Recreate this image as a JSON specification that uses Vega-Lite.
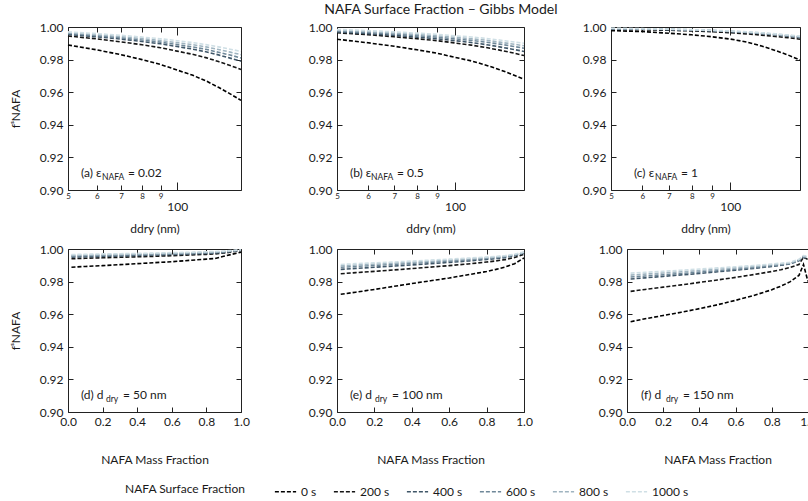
{
  "$schema": "https://vega.github.io/schema/vega-lite/v6.json",
  "padding": {"left": 9, "top": 3, "right": 5, "bottom": 5},
  "title": {"text": "NAFA Surface Fraction – Gibbs Model", "fontSize": 14, "fontWeight": "normal", "offset": 4, "anchor": "middle", "dx": 28, "color": "#1a1a1a"},
  "datasets": {
    "curves": [
      {"p":"a","x":50,"0 s":0.989,"200 s":0.9945,"400 s":0.9955,"600 s":0.996,"800 s":0.9965,"1000 s":0.997},
      {"p":"a","x":60,"0 s":0.986,"200 s":0.9927,"400 s":0.994,"600 s":0.9947,"800 s":0.9953,"1000 s":0.9959},
      {"p":"a","x":70,"0 s":0.983,"200 s":0.9909,"400 s":0.9926,"600 s":0.9934,"800 s":0.9941,"1000 s":0.9949},
      {"p":"a","x":80,"0 s":0.98,"200 s":0.9891,"400 s":0.9911,"600 s":0.992,"800 s":0.9929,"1000 s":0.9938},
      {"p":"a","x":90,"0 s":0.977,"200 s":0.9873,"400 s":0.9897,"600 s":0.9907,"800 s":0.9917,"1000 s":0.9928},
      {"p":"a","x":100,"0 s":0.9736,"200 s":0.9852,"400 s":0.988,"600 s":0.9892,"800 s":0.9904,"1000 s":0.9916},
      {"p":"a","x":110,"0 s":0.9705,"200 s":0.9833,"400 s":0.9865,"600 s":0.9878,"800 s":0.9892,"1000 s":0.9905},
      {"p":"a","x":120,"0 s":0.967,"200 s":0.9812,"400 s":0.9848,"600 s":0.9863,"800 s":0.9878,"1000 s":0.9892},
      {"p":"a","x":130,"0 s":0.963,"200 s":0.9788,"400 s":0.9829,"600 s":0.9845,"800 s":0.9862,"1000 s":0.9878},
      {"p":"a","x":140,"0 s":0.959,"200 s":0.9764,"400 s":0.9809,"600 s":0.9828,"800 s":0.9846,"1000 s":0.9864},
      {"p":"a","x":150,"0 s":0.955,"200 s":0.974,"400 s":0.979,"600 s":0.981,"800 s":0.983,"1000 s":0.985},

      {"p":"b","x":50,"0 s":0.9925,"200 s":0.9965,"400 s":0.997,"600 s":0.9975,"800 s":0.998,"1000 s":0.9985},
      {"p":"b","x":60,"0 s":0.9903,"200 s":0.9953,"400 s":0.9959,"600 s":0.9966,"800 s":0.9972,"1000 s":0.9978},
      {"p":"b","x":70,"0 s":0.9882,"200 s":0.994,"400 s":0.9949,"600 s":0.9957,"800 s":0.9963,"1000 s":0.997},
      {"p":"b","x":80,"0 s":0.986,"200 s":0.9928,"400 s":0.9938,"600 s":0.9947,"800 s":0.9955,"1000 s":0.9962},
      {"p":"b","x":90,"0 s":0.9839,"200 s":0.9916,"400 s":0.9928,"600 s":0.9938,"800 s":0.9946,"1000 s":0.9955},
      {"p":"b","x":100,"0 s":0.9814,"200 s":0.9902,"400 s":0.9916,"600 s":0.9927,"800 s":0.9937,"1000 s":0.9946},
      {"p":"b","x":110,"0 s":0.9792,"200 s":0.9889,"400 s":0.9905,"600 s":0.9918,"800 s":0.9928,"1000 s":0.9939},
      {"p":"b","x":120,"0 s":0.9766,"200 s":0.9874,"400 s":0.9892,"600 s":0.9907,"800 s":0.9919,"1000 s":0.993},
      {"p":"b","x":130,"0 s":0.9738,"200 s":0.9858,"400 s":0.9878,"600 s":0.9895,"800 s":0.9907,"1000 s":0.992},
      {"p":"b","x":140,"0 s":0.9709,"200 s":0.9842,"400 s":0.9864,"600 s":0.9882,"800 s":0.9896,"1000 s":0.991},
      {"p":"b","x":150,"0 s":0.968,"200 s":0.9825,"400 s":0.985,"600 s":0.987,"800 s":0.9885,"1000 s":0.99},

      {"p":"c","x":50,"0 s":0.9978,"200 s":0.9985,"400 s":0.9989,"600 s":0.999,"800 s":0.9991,"1000 s":0.9992},
      {"p":"c","x":60,"0 s":0.9972,"200 s":0.9983,"400 s":0.9987,"600 s":0.9988,"800 s":0.9989,"1000 s":0.999},
      {"p":"c","x":70,"0 s":0.9962,"200 s":0.998,"400 s":0.9984,"600 s":0.9985,"800 s":0.9986,"1000 s":0.9987},
      {"p":"c","x":80,"0 s":0.9952,"200 s":0.9976,"400 s":0.9981,"600 s":0.9982,"800 s":0.9983,"1000 s":0.9984},
      {"p":"c","x":90,"0 s":0.994,"200 s":0.9971,"400 s":0.9977,"600 s":0.9978,"800 s":0.9979,"1000 s":0.998},
      {"p":"c","x":100,"0 s":0.9926,"200 s":0.9965,"400 s":0.9972,"600 s":0.9973,"800 s":0.9974,"1000 s":0.9976},
      {"p":"c","x":110,"0 s":0.9908,"200 s":0.9958,"400 s":0.9966,"600 s":0.9967,"800 s":0.9969,"1000 s":0.9971},
      {"p":"c","x":120,"0 s":0.9883,"200 s":0.995,"400 s":0.9959,"600 s":0.9961,"800 s":0.9963,"1000 s":0.9965},
      {"p":"c","x":130,"0 s":0.9856,"200 s":0.9942,"400 s":0.9952,"600 s":0.9954,"800 s":0.9956,"1000 s":0.9958},
      {"p":"c","x":140,"0 s":0.9828,"200 s":0.9934,"400 s":0.9944,"600 s":0.9946,"800 s":0.9949,"1000 s":0.9951},
      {"p":"c","x":150,"0 s":0.9798,"200 s":0.9925,"400 s":0.9935,"600 s":0.9938,"800 s":0.9941,"1000 s":0.9944},

      {"p":"d","x":0.02,"0 s":0.9888,"200 s":0.994,"400 s":0.995,"600 s":0.9956,"800 s":0.9961,"1000 s":0.9966},
      {"p":"d","x":0.1,"0 s":0.9893,"200 s":0.9943,"400 s":0.9952,"600 s":0.9958,"800 s":0.9963,"1000 s":0.9968},
      {"p":"d","x":0.2,"0 s":0.9898,"200 s":0.9946,"400 s":0.9955,"600 s":0.996,"800 s":0.9965,"1000 s":0.997},
      {"p":"d","x":0.3,"0 s":0.9904,"200 s":0.9949,"400 s":0.9957,"600 s":0.9962,"800 s":0.9967,"1000 s":0.9971},
      {"p":"d","x":0.4,"0 s":0.991,"200 s":0.9952,"400 s":0.996,"600 s":0.9965,"800 s":0.9969,"1000 s":0.9973},
      {"p":"d","x":0.5,"0 s":0.9916,"200 s":0.9955,"400 s":0.9963,"600 s":0.9967,"800 s":0.9971,"1000 s":0.9975},
      {"p":"d","x":0.6,"0 s":0.9922,"200 s":0.9959,"400 s":0.9966,"600 s":0.997,"800 s":0.9974,"1000 s":0.9978},
      {"p":"d","x":0.7,"0 s":0.993,"200 s":0.9963,"400 s":0.9969,"600 s":0.9973,"800 s":0.9977,"1000 s":0.998},
      {"p":"d","x":0.8,"0 s":0.9938,"200 s":0.9967,"400 s":0.9973,"600 s":0.9976,"800 s":0.998,"1000 s":0.9983},
      {"p":"d","x":0.85,"0 s":0.9942,"200 s":0.997,"400 s":0.9975,"600 s":0.9978,"800 s":0.9982,"1000 s":0.9985},
      {"p":"d","x":0.9,"0 s":0.9955,"200 s":0.9975,"400 s":0.9979,"600 s":0.9982,"800 s":0.9985,"1000 s":0.9987},
      {"p":"d","x":0.95,"0 s":0.9968,"200 s":0.9982,"400 s":0.9985,"600 s":0.9987,"800 s":0.9989,"1000 s":0.9991},
      {"p":"d","x":1.0,"0 s":0.998,"200 s":0.999,"400 s":0.9992,"600 s":0.9993,"800 s":0.9994,"1000 s":0.9995},

      {"p":"e","x":0.02,"0 s":0.9722,"200 s":0.9848,"400 s":0.9875,"600 s":0.9888,"800 s":0.9897,"1000 s":0.9905},
      {"p":"e","x":0.1,"0 s":0.9735,"200 s":0.9855,"400 s":0.9881,"600 s":0.9893,"800 s":0.9902,"1000 s":0.991},
      {"p":"e","x":0.2,"0 s":0.9752,"200 s":0.9863,"400 s":0.9888,"600 s":0.9899,"800 s":0.9907,"1000 s":0.9915},
      {"p":"e","x":0.3,"0 s":0.977,"200 s":0.9871,"400 s":0.9895,"600 s":0.9905,"800 s":0.9913,"1000 s":0.992},
      {"p":"e","x":0.4,"0 s":0.9788,"200 s":0.988,"400 s":0.9902,"600 s":0.9912,"800 s":0.9919,"1000 s":0.9926},
      {"p":"e","x":0.5,"0 s":0.9805,"200 s":0.9889,"400 s":0.991,"600 s":0.9919,"800 s":0.9925,"1000 s":0.9932},
      {"p":"e","x":0.6,"0 s":0.9822,"200 s":0.9898,"400 s":0.9918,"600 s":0.9926,"800 s":0.9932,"1000 s":0.9938},
      {"p":"e","x":0.7,"0 s":0.9842,"200 s":0.9908,"400 s":0.9926,"600 s":0.9933,"800 s":0.9939,"1000 s":0.9944},
      {"p":"e","x":0.8,"0 s":0.9862,"200 s":0.992,"400 s":0.9936,"600 s":0.9942,"800 s":0.9947,"1000 s":0.9951},
      {"p":"e","x":0.85,"0 s":0.9875,"200 s":0.9927,"400 s":0.9941,"600 s":0.9947,"800 s":0.9951,"1000 s":0.9955},
      {"p":"e","x":0.9,"0 s":0.989,"200 s":0.9935,"400 s":0.9947,"600 s":0.9953,"800 s":0.9956,"1000 s":0.996},
      {"p":"e","x":0.95,"0 s":0.991,"200 s":0.9948,"400 s":0.9958,"600 s":0.9962,"800 s":0.9965,"1000 s":0.9968},
      {"p":"e","x":1.0,"0 s":0.9945,"200 s":0.9968,"400 s":0.9975,"600 s":0.9978,"800 s":0.998,"1000 s":0.9982},

      {"p":"f","x":0.02,"0 s":0.9554,"200 s":0.974,"400 s":0.9816,"600 s":0.9828,"800 s":0.984,"1000 s":0.9852},
      {"p":"f","x":0.1,"0 s":0.9572,"200 s":0.9752,"400 s":0.9823,"600 s":0.9834,"800 s":0.9846,"1000 s":0.9857},
      {"p":"f","x":0.2,"0 s":0.9592,"200 s":0.9766,"400 s":0.9832,"600 s":0.9842,"800 s":0.9853,"1000 s":0.9863},
      {"p":"f","x":0.3,"0 s":0.9612,"200 s":0.978,"400 s":0.9841,"600 s":0.985,"800 s":0.986,"1000 s":0.987},
      {"p":"f","x":0.4,"0 s":0.9634,"200 s":0.9795,"400 s":0.985,"600 s":0.9858,"800 s":0.9868,"1000 s":0.9877},
      {"p":"f","x":0.5,"0 s":0.9658,"200 s":0.981,"400 s":0.986,"600 s":0.9867,"800 s":0.9876,"1000 s":0.9884},
      {"p":"f","x":0.6,"0 s":0.9685,"200 s":0.9826,"400 s":0.987,"600 s":0.9876,"800 s":0.9884,"1000 s":0.9891},
      {"p":"f","x":0.7,"0 s":0.9715,"200 s":0.9843,"400 s":0.9881,"600 s":0.9886,"800 s":0.9893,"1000 s":0.9899},
      {"p":"f","x":0.8,"0 s":0.975,"200 s":0.9862,"400 s":0.9893,"600 s":0.9897,"800 s":0.9903,"1000 s":0.9908},
      {"p":"f","x":0.85,"0 s":0.9772,"200 s":0.9873,"400 s":0.99,"600 s":0.9903,"800 s":0.9908,"1000 s":0.9913},
      {"p":"f","x":0.9,"0 s":0.9798,"200 s":0.9886,"400 s":0.9908,"600 s":0.991,"800 s":0.9914,"1000 s":0.9918},
      {"p":"f","x":0.95,"0 s":0.9838,"200 s":0.9905,"400 s":0.9928,"600 s":0.9931,"800 s":0.9934,"1000 s":0.9937},
      {"p":"f","x":0.975,"0 s":0.9905,"200 s":0.995,"400 s":0.995,"600 s":0.9953,"800 s":0.9956,"1000 s":0.996},
      {"p":"f","x":1.0,"0 s":0.98,"200 s":0.9935,"400 s":0.9942,"600 s":0.9946,"800 s":0.995,"1000 s":0.9955}
    ]
  },
  "vconcat": [
    {
      "hconcat": [
        {
          "width": 173, "height": 163,
          "layer": [
            {
              "data": {"name": "curves"},
              "transform": [{"filter": "datum.p === 'a'"}, {"fold": ["0 s", "200 s", "400 s", "600 s", "800 s", "1000 s"], "as": ["t", "f"]}],
              "mark": {"type": "line", "strokeDash": [4, 2], "strokeWidth": 1.6},
              "encoding": {
                "x": {"field": "x", "type": "quantitative", "scale": {"type": "log", "domain": [50, 150], "nice": false},
                      "axis": {"orient": "bottom", "values": [50, 60, 70, 80, 90, 100], "title": "ddry (nm)", "titlePadding": 11,
                               "labelExpr": "datum.value == 100 ? '100' : format(datum.value / 10, 'd')",
                               "labelFontSize": {"condition": {"test": "datum.value == 100", "value": 12}, "value": 8},
                               "tickSize": {"condition": {"test": "datum.value == 100", "value": -8}, "value": -5},
                               "labelPadding": {"condition": {"test": "datum.value == 100", "value": 19}, "value": 7}}},
                "y": {"field": "f", "type": "quantitative", "scale": {"domain": [0.9, 1.0], "nice": false, "zero": false},
                      "axis": {"orient": "left", "values": [0.9, 0.92, 0.94, 0.96, 0.98, 1.0], "format": ".2f", "labelPadding": 10, "title": "fˢNAFA", "titlePadding": 17}},
                "color": {"field": "t", "type": "nominal", "sort": ["0 s", "200 s", "400 s", "600 s", "800 s", "1000 s"],
                          "scale": {"domain": ["0 s", "200 s", "400 s", "600 s", "800 s", "1000 s"], "range": ["#000000", "#151515", "#3f5668", "#6f8899", "#9fb4c0", "#cfdfe5"]},
                          "legend": {"orient": "none", "legendX": 57, "legendY": 453, "direction": "horizontal", "title": "NAFA Surface Fraction", "titleOrient": "left"}}
              }
            },
            {
              "data": {"values": [{}]},
              "mark": {"type": "text", "text": "(a) ε", "align": "left", "baseline": "middle", "dx": 13, "fontSize": 12},
              "encoding": {
                "x": {"datum": 50, "type": "quantitative", "scale": {"type": "log", "domain": [50, 150], "nice": false},
                      "axis": {"orient": "top", "values": [50, 60, 70, 80, 90, 100], "title": null, "labels": false,
                               "tickSize": {"condition": {"test": "datum.value == 100", "value": -8}, "value": -5}}},
                "y": {"datum": 0.9105, "type": "quantitative", "scale": {"domain": [0.9, 1.0], "nice": false, "zero": false},
                      "axis": {"orient": "right", "values": [0.9, 0.92, 0.94, 0.96, 0.98, 1.0], "title": null, "labels": false}}
              }
            },
            {
              "data": {"values": [{}]},
              "mark": {"type": "text", "text": "NAFA", "align": "left", "baseline": "middle", "dx": 34, "dy": 4, "fontSize": 8.5},
              "encoding": {"x": {"datum": 50, "type": "quantitative", "axis": null}, "y": {"datum": 0.9105, "type": "quantitative", "axis": null}}
            },
            {
              "data": {"values": [{}]},
              "mark": {"type": "text", "text": "= 0.02", "align": "left", "baseline": "middle", "dx": 60, "fontSize": 12},
              "encoding": {"x": {"datum": 50, "type": "quantitative", "axis": null}, "y": {"datum": 0.9105, "type": "quantitative", "axis": null}}
            }
          ],
          "resolve": {"axis": {"x": "independent", "y": "independent"}}
        },
        {
          "hconcat": [
            {
              "width": 187, "height": 163,
              "layer": [
                {
                  "data": {"name": "curves"},
                  "transform": [{"filter": "datum.p === 'b'"}, {"fold": ["0 s", "200 s", "400 s", "600 s", "800 s", "1000 s"], "as": ["t", "f"]}],
                  "mark": {"type": "line", "strokeDash": [4, 2], "strokeWidth": 1.6},
                  "encoding": {
                    "x": {"field": "x", "type": "quantitative", "scale": {"type": "log", "domain": [50, 150], "nice": false},
                          "axis": {"orient": "bottom", "values": [50, 60, 70, 80, 90, 100], "title": "ddry (nm)", "titlePadding": 11,
                                   "labelExpr": "datum.value == 100 ? '100' : format(datum.value / 10, 'd')",
                                   "labelFontSize": {"condition": {"test": "datum.value == 100", "value": 12}, "value": 8},
                                   "tickSize": {"condition": {"test": "datum.value == 100", "value": -8}, "value": -5},
                                   "labelPadding": {"condition": {"test": "datum.value == 100", "value": 19}, "value": 7}}},
                    "y": {"field": "f", "type": "quantitative", "scale": {"domain": [0.9, 1.0], "nice": false, "zero": false},
                          "axis": {"orient": "left", "values": [0.9, 0.92, 0.94, 0.96, 0.98, 1.0], "format": ".2f", "labelPadding": 10, "title": null}},
                    "color": {"field": "t", "type": "nominal", "sort": ["0 s", "200 s", "400 s", "600 s", "800 s", "1000 s"],
                              "scale": {"domain": ["0 s", "200 s", "400 s", "600 s", "800 s", "1000 s"], "range": ["#000000", "#151515", "#3f5668", "#6f8899", "#9fb4c0", "#cfdfe5"]},
                              "legend": {"orient": "none", "legendX": 57, "legendY": 453, "direction": "horizontal", "title": "NAFA Surface Fraction", "titleOrient": "left"}}
                  }
                },
                {
                  "data": {"values": [{}]},
                  "mark": {"type": "text", "text": "(b) ε", "align": "left", "baseline": "middle", "dx": 13, "fontSize": 12},
                  "encoding": {
                    "x": {"datum": 50, "type": "quantitative", "scale": {"type": "log", "domain": [50, 150], "nice": false},
                          "axis": {"orient": "top", "values": [50, 60, 70, 80, 90, 100], "title": null, "labels": false,
                                   "tickSize": {"condition": {"test": "datum.value == 100", "value": -8}, "value": -5}}},
                    "y": {"datum": 0.9105, "type": "quantitative", "scale": {"domain": [0.9, 1.0], "nice": false, "zero": false},
                          "axis": {"orient": "right", "values": [0.9, 0.92, 0.94, 0.96, 0.98, 1.0], "title": null, "labels": false}}
                  }
                },
                {
                  "data": {"values": [{}]},
                  "mark": {"type": "text", "text": "NAFA", "align": "left", "baseline": "middle", "dx": 34, "dy": 4, "fontSize": 8.5},
                  "encoding": {"x": {"datum": 50, "type": "quantitative", "axis": null}, "y": {"datum": 0.9105, "type": "quantitative", "axis": null}}
                },
                {
                  "data": {"values": [{}]},
                  "mark": {"type": "text", "text": "= 0.5", "align": "left", "baseline": "middle", "dx": 60, "fontSize": 12},
                  "encoding": {"x": {"datum": 50, "type": "quantitative", "axis": null}, "y": {"datum": 0.9105, "type": "quantitative", "axis": null}}
                }
              ],
              "resolve": {"axis": {"x": "independent", "y": "independent"}}
            },
            {
              "width": 189, "height": 163,
              "layer": [
                {
                  "data": {"name": "curves"},
                  "transform": [{"filter": "datum.p === 'c'"}, {"fold": ["0 s", "200 s", "400 s", "600 s", "800 s", "1000 s"], "as": ["t", "f"]}],
                  "mark": {"type": "line", "strokeDash": [4, 2], "strokeWidth": 1.6},
                  "encoding": {
                    "x": {"field": "x", "type": "quantitative", "scale": {"type": "log", "domain": [50, 150], "nice": false},
                          "axis": {"orient": "bottom", "values": [50, 60, 70, 80, 90, 100], "title": "ddry (nm)", "titlePadding": 11,
                                   "labelExpr": "datum.value == 100 ? '100' : format(datum.value / 10, 'd')",
                                   "labelFontSize": {"condition": {"test": "datum.value == 100", "value": 12}, "value": 8},
                                   "tickSize": {"condition": {"test": "datum.value == 100", "value": -8}, "value": -5},
                                   "labelPadding": {"condition": {"test": "datum.value == 100", "value": 19}, "value": 7}}},
                    "y": {"field": "f", "type": "quantitative", "scale": {"domain": [0.9, 1.0], "nice": false, "zero": false},
                          "axis": {"orient": "left", "values": [0.9, 0.92, 0.94, 0.96, 0.98, 1.0], "format": ".2f", "labelPadding": 10, "title": null}},
                    "color": {"field": "t", "type": "nominal", "sort": ["0 s", "200 s", "400 s", "600 s", "800 s", "1000 s"],
                              "scale": {"domain": ["0 s", "200 s", "400 s", "600 s", "800 s", "1000 s"], "range": ["#000000", "#151515", "#3f5668", "#6f8899", "#9fb4c0", "#cfdfe5"]},
                              "legend": {"orient": "none", "legendX": 57, "legendY": 453, "direction": "horizontal", "title": "NAFA Surface Fraction", "titleOrient": "left"}}
                  }
                },
                {
                  "data": {"values": [{}]},
                  "mark": {"type": "text", "text": "(c) ε", "align": "left", "baseline": "middle", "dx": 23, "fontSize": 12},
                  "encoding": {
                    "x": {"datum": 50, "type": "quantitative", "scale": {"type": "log", "domain": [50, 150], "nice": false},
                          "axis": {"orient": "top", "values": [50, 60, 70, 80, 90, 100], "title": null, "labels": false,
                                   "tickSize": {"condition": {"test": "datum.value == 100", "value": -8}, "value": -5}}},
                    "y": {"datum": 0.9105, "type": "quantitative", "scale": {"domain": [0.9, 1.0], "nice": false, "zero": false},
                          "axis": {"orient": "right", "values": [0.9, 0.92, 0.94, 0.96, 0.98, 1.0], "title": null, "labels": false}}
                  }
                },
                {
                  "data": {"values": [{}]},
                  "mark": {"type": "text", "text": "NAFA", "align": "left", "baseline": "middle", "dx": 44, "dy": 4, "fontSize": 8.5},
                  "encoding": {"x": {"datum": 50, "type": "quantitative", "axis": null}, "y": {"datum": 0.9105, "type": "quantitative", "axis": null}}
                },
                {
                  "data": {"values": [{}]},
                  "mark": {"type": "text", "text": "= 1", "align": "left", "baseline": "middle", "dx": 70, "fontSize": 12},
                  "encoding": {"x": {"datum": 50, "type": "quantitative", "axis": null}, "y": {"datum": 0.9105, "type": "quantitative", "axis": null}}
                }
              ],
              "resolve": {"axis": {"x": "independent", "y": "independent"}}
            }
          ],
          "spacing": 54,
          "resolve": {"scale": {"color": "shared"}}
        }
      ],
      "spacing": 63,
      "resolve": {"scale": {"color": "shared"}}
    },
    {
      "hconcat": [
        {
          "width": 173, "height": 163,
          "layer": [
            {
              "data": {"name": "curves"},
              "transform": [{"filter": "datum.p === 'd'"}, {"fold": ["0 s", "200 s", "400 s", "600 s", "800 s", "1000 s"], "as": ["t", "f"]}],
              "mark": {"type": "line", "strokeDash": [4, 2], "strokeWidth": 1.6},
              "encoding": {
                "x": {"field": "x", "type": "quantitative", "scale": {"domain": [0, 1], "nice": false, "zero": false},
                      "axis": {"orient": "bottom", "values": [0, 0.2, 0.4, 0.6, 0.8, 1.0], "format": ".1f", "labelPadding": 9, "title": "NAFA Mass Fraction", "titlePadding": 27}},
                "y": {"field": "f", "type": "quantitative", "scale": {"domain": [0.9, 1.0], "nice": false, "zero": false},
                      "axis": {"orient": "left", "values": [0.9, 0.92, 0.94, 0.96, 0.98, 1.0], "format": ".2f", "labelPadding": 10, "title": "fˢNAFA", "titlePadding": 17}},
                "color": {"field": "t", "type": "nominal", "sort": ["0 s", "200 s", "400 s", "600 s", "800 s", "1000 s"],
                          "scale": {"domain": ["0 s", "200 s", "400 s", "600 s", "800 s", "1000 s"], "range": ["#000000", "#151515", "#3f5668", "#6f8899", "#9fb4c0", "#cfdfe5"]},
                          "legend": {"orient": "none", "legendX": 57, "legendY": 453, "direction": "horizontal", "title": "NAFA Surface Fraction", "titleOrient": "left"}}
              }
            },
            {
              "data": {"values": [{}]},
              "mark": {"type": "text", "text": "(d) d", "align": "left", "baseline": "middle", "dx": 13, "fontSize": 12},
              "encoding": {
                "x": {"datum": 0, "type": "quantitative", "scale": {"domain": [0, 1], "nice": false, "zero": false},
                      "axis": {"orient": "top", "values": [0, 0.2, 0.4, 0.6, 0.8, 1.0], "title": null, "labels": false}},
                "y": {"datum": 0.9105, "type": "quantitative", "scale": {"domain": [0.9, 1.0], "nice": false, "zero": false},
                      "axis": {"orient": "right", "values": [0.9, 0.92, 0.94, 0.96, 0.98, 1.0], "title": null, "labels": false}}
              }
            },
            {
              "data": {"values": [{}]},
              "mark": {"type": "text", "text": "dry", "align": "left", "baseline": "middle", "dx": 38, "dy": 4, "fontSize": 8.5},
              "encoding": {"x": {"datum": 0, "type": "quantitative", "axis": null}, "y": {"datum": 0.9105, "type": "quantitative", "axis": null}}
            },
            {
              "data": {"values": [{}]},
              "mark": {"type": "text", "text": "= 50 nm", "align": "left", "baseline": "middle", "dx": 55, "fontSize": 12},
              "encoding": {"x": {"datum": 0, "type": "quantitative", "axis": null}, "y": {"datum": 0.9105, "type": "quantitative", "axis": null}}
            }
          ],
          "resolve": {"axis": {"x": "independent", "y": "independent"}}
        },
        {
          "hconcat": [
            {
              "width": 187, "height": 163,
              "layer": [
                {
                  "data": {"name": "curves"},
                  "transform": [{"filter": "datum.p === 'e'"}, {"fold": ["0 s", "200 s", "400 s", "600 s", "800 s", "1000 s"], "as": ["t", "f"]}],
                  "mark": {"type": "line", "strokeDash": [4, 2], "strokeWidth": 1.6},
                  "encoding": {
                    "x": {"field": "x", "type": "quantitative", "scale": {"domain": [0, 1], "nice": false, "zero": false},
                          "axis": {"orient": "bottom", "values": [0, 0.2, 0.4, 0.6, 0.8, 1.0], "format": ".1f", "labelPadding": 9, "title": "NAFA Mass Fraction", "titlePadding": 27}},
                    "y": {"field": "f", "type": "quantitative", "scale": {"domain": [0.9, 1.0], "nice": false, "zero": false},
                          "axis": {"orient": "left", "values": [0.9, 0.92, 0.94, 0.96, 0.98, 1.0], "format": ".2f", "labelPadding": 10, "title": null}},
                    "color": {"field": "t", "type": "nominal", "sort": ["0 s", "200 s", "400 s", "600 s", "800 s", "1000 s"],
                              "scale": {"domain": ["0 s", "200 s", "400 s", "600 s", "800 s", "1000 s"], "range": ["#000000", "#151515", "#3f5668", "#6f8899", "#9fb4c0", "#cfdfe5"]},
                              "legend": {"orient": "none", "legendX": 57, "legendY": 453, "direction": "horizontal", "title": "NAFA Surface Fraction", "titleOrient": "left"}}
                  }
                },
                {
                  "data": {"values": [{}]},
                  "mark": {"type": "text", "text": "(e) d", "align": "left", "baseline": "middle", "dx": 13, "fontSize": 12},
                  "encoding": {
                    "x": {"datum": 0, "type": "quantitative", "scale": {"domain": [0, 1], "nice": false, "zero": false},
                          "axis": {"orient": "top", "values": [0, 0.2, 0.4, 0.6, 0.8, 1.0], "title": null, "labels": false}},
                    "y": {"datum": 0.9105, "type": "quantitative", "scale": {"domain": [0.9, 1.0], "nice": false, "zero": false},
                          "axis": {"orient": "right", "values": [0.9, 0.92, 0.94, 0.96, 0.98, 1.0], "title": null, "labels": false}}
                  }
                },
                {
                  "data": {"values": [{}]},
                  "mark": {"type": "text", "text": "dry", "align": "left", "baseline": "middle", "dx": 38, "dy": 4, "fontSize": 8.5},
                  "encoding": {"x": {"datum": 0, "type": "quantitative", "axis": null}, "y": {"datum": 0.9105, "type": "quantitative", "axis": null}}
                },
                {
                  "data": {"values": [{}]},
                  "mark": {"type": "text", "text": "= 100 nm", "align": "left", "baseline": "middle", "dx": 55, "fontSize": 12},
                  "encoding": {"x": {"datum": 0, "type": "quantitative", "axis": null}, "y": {"datum": 0.9105, "type": "quantitative", "axis": null}}
                }
              ],
              "resolve": {"axis": {"x": "independent", "y": "independent"}}
            },
            {
              "width": 181, "height": 163,
              "layer": [
                {
                  "data": {"name": "curves"},
                  "transform": [{"filter": "datum.p === 'f'"}, {"fold": ["0 s", "200 s", "400 s", "600 s", "800 s", "1000 s"], "as": ["t", "f"]}],
                  "mark": {"type": "line", "strokeDash": [4, 2], "strokeWidth": 1.6},
                  "encoding": {
                    "x": {"field": "x", "type": "quantitative", "scale": {"domain": [0, 1], "nice": false, "zero": false},
                          "axis": {"orient": "bottom", "values": [0, 0.2, 0.4, 0.6, 0.8, 1.0], "format": ".1f", "labelPadding": 9, "title": "NAFA Mass Fraction", "titlePadding": 27}},
                    "y": {"field": "f", "type": "quantitative", "scale": {"domain": [0.9, 1.0], "nice": false, "zero": false},
                          "axis": {"orient": "left", "values": [0.9, 0.92, 0.94, 0.96, 0.98, 1.0], "format": ".2f", "labelPadding": 10, "title": null}},
                    "color": {"field": "t", "type": "nominal", "sort": ["0 s", "200 s", "400 s", "600 s", "800 s", "1000 s"],
                              "scale": {"domain": ["0 s", "200 s", "400 s", "600 s", "800 s", "1000 s"], "range": ["#000000", "#151515", "#3f5668", "#6f8899", "#9fb4c0", "#cfdfe5"]},
                              "legend": {"orient": "none", "legendX": 57, "legendY": 453, "direction": "horizontal", "title": "NAFA Surface Fraction", "titleOrient": "left"}}
                  }
                },
                {
                  "data": {"values": [{}]},
                  "mark": {"type": "text", "text": "(f) d", "align": "left", "baseline": "middle", "dx": 14, "fontSize": 12},
                  "encoding": {
                    "x": {"datum": 0, "type": "quantitative", "scale": {"domain": [0, 1], "nice": false, "zero": false},
                          "axis": {"orient": "top", "values": [0, 0.2, 0.4, 0.6, 0.8, 1.0], "title": null, "labels": false}},
                    "y": {"datum": 0.9105, "type": "quantitative", "scale": {"domain": [0.9, 1.0], "nice": false, "zero": false},
                          "axis": {"orient": "right", "values": [0.9, 0.92, 0.94, 0.96, 0.98, 1.0], "title": null, "labels": false}}
                  }
                },
                {
                  "data": {"values": [{}]},
                  "mark": {"type": "text", "text": "dry", "align": "left", "baseline": "middle", "dx": 39, "dy": 4, "fontSize": 8.5},
                  "encoding": {"x": {"datum": 0, "type": "quantitative", "axis": null}, "y": {"datum": 0.9105, "type": "quantitative", "axis": null}}
                },
                {
                  "data": {"values": [{}]},
                  "mark": {"type": "text", "text": "= 150 nm", "align": "left", "baseline": "middle", "dx": 56, "fontSize": 12},
                  "encoding": {"x": {"datum": 0, "type": "quantitative", "axis": null}, "y": {"datum": 0.9105, "type": "quantitative", "axis": null}}
                }
              ],
              "resolve": {"axis": {"x": "independent", "y": "independent"}}
            }
          ],
          "spacing": 65,
          "resolve": {"scale": {"color": "shared"}}
        }
      ],
      "spacing": 58,
      "resolve": {"scale": {"color": "shared"}}
    }
  ],
  "spacing": 9,
  "resolve": {"scale": {"color": "shared"}},
  "config": {
    "font": "Lato",
    "view": {"stroke": null},
    "axis": {"domainColor": "#222222", "domainWidth": 1, "tickColor": "#222222", "tickWidth": 1, "tickSize": -5,
             "labelFont": "Lato", "labelFontSize": 12, "labelColor": "#1a1a1a", "labelFlush": false, "labelOverlap": false,
             "titleFont": "Lato", "titleFontSize": 12, "titleFontWeight": "normal", "titleColor": "#1a1a1a", "grid": false},
    "text": {"font": "Lato", "color": "#1a1a1a"},
    "legend": {"labelFont": "Lato", "labelFontSize": 12, "labelColor": "#1a1a1a", "titleFont": "Lato", "titleFontSize": 12,
               "titleFontWeight": "normal", "titleColor": "#1a1a1a", "symbolType": "stroke", "symbolDash": [4, 2],
               "symbolStrokeWidth": 1.5, "symbolSize": 450, "columnPadding": 13, "titlePadding": 28}
  }
}
